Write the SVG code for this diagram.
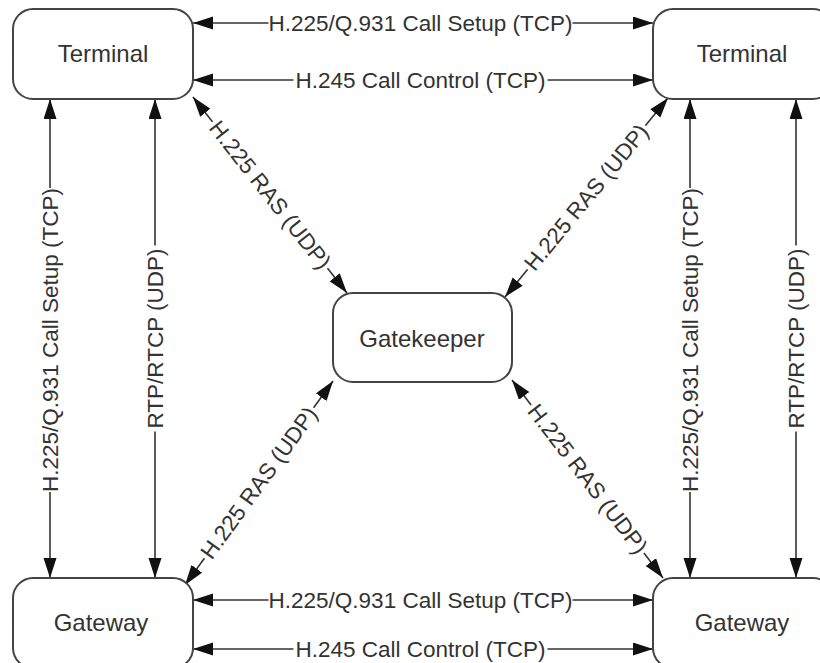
<svg xmlns="http://www.w3.org/2000/svg" width="820" height="663" viewBox="0 0 820 663">
<style>
.node rect{fill:#fff;stroke:#444;stroke-width:2}
.node text{font-family:"Liberation Sans",Arial,sans-serif;font-size:24px;fill:#333;text-anchor:middle;dominant-baseline:central}
.edge line{stroke:#333;stroke-width:1.6;marker-start:url(#arr);marker-end:url(#arr)}
.lbl text{font-family:"Liberation Sans",Arial,sans-serif;font-size:22.5px;fill:#333;text-anchor:middle;dominant-baseline:central}
.lbl rect{fill:#fff}
</style>
<defs>
<marker id="arr" markerUnits="userSpaceOnUse" markerWidth="22" markerHeight="16" refX="20" refY="6.5" orient="auto-start-reverse">
<path d="M0,0 L20,6.5 L0,13 z" fill="#111"/>
</marker>
</defs>
<rect width="820" height="663" fill="#fff"/>
<g id="connectors">
<g class="edge">
<line x1="193" y1="23" x2="653" y2="23"/>
<line x1="193" y1="80" x2="653" y2="80"/>
<line x1="193" y1="600" x2="653" y2="600"/>
<line x1="193" y1="649" x2="653" y2="649"/>
<line x1="50" y1="99" x2="50" y2="578"/>
<line x1="155" y1="99" x2="155" y2="578"/>
<line x1="690" y1="99" x2="690" y2="578"/>
<line x1="796" y1="99" x2="796" y2="578"/>
<line x1="193" y1="97" x2="347" y2="293"/>
<line x1="668" y1="98" x2="505" y2="297"/>
<line x1="333" y1="381" x2="185" y2="585"/>
<line x1="512" y1="380" x2="663" y2="578"/>
</g>
<g class="lbl">
<g transform="translate(420.5,23)"><rect x="-152" y="-5" width="304" height="10"/><text>H.225/Q.931 Call Setup (TCP)</text></g>
<g transform="translate(420.5,80)"><rect x="-127" y="-5" width="254" height="10"/><text>H.245 Call Control (TCP)</text></g>
<g transform="translate(420.5,600)"><rect x="-152" y="-5" width="304" height="10"/><text>H.225/Q.931 Call Setup (TCP)</text></g>
<g transform="translate(420.5,649)"><rect x="-127" y="-5" width="254" height="10"/><text>H.245 Call Control (TCP)</text></g>
<g transform="translate(50,340) rotate(-90)"><rect x="-152" y="-5" width="304" height="10"/><text>H.225/Q.931 Call Setup (TCP)</text></g>
<g transform="translate(155,338.5) rotate(-90)"><rect x="-93" y="-5" width="186" height="10"/><text>RTP/RTCP (UDP)</text></g>
<g transform="translate(690,340) rotate(-90)"><rect x="-152" y="-5" width="304" height="10"/><text>H.225/Q.931 Call Setup (TCP)</text></g>
<g transform="translate(796,338.5) rotate(-90)"><rect x="-93" y="-5" width="186" height="10"/><text>RTP/RTCP (UDP)</text></g>
<g transform="translate(270,195) rotate(51.84)"><rect x="-93" y="-5" width="186" height="10"/><text>H.225 RAS (UDP)</text></g>
<g transform="translate(586.5,197.5) rotate(-50.68)"><rect x="-93" y="-5" width="186" height="10"/><text>H.225 RAS (UDP)</text></g>
<g transform="translate(259,483) rotate(-54.04)"><rect x="-93" y="-5" width="186" height="10"/><text>H.225 RAS (UDP)</text></g>
<g transform="translate(587.5,479) rotate(52.67)"><rect x="-93" y="-5" width="186" height="10"/><text>H.225 RAS (UDP)</text></g>
</g>
</g>
<g id="terminal-left" class="node"><rect x="13" y="9" width="180" height="90" rx="20"/><text x="103" y="53">Terminal</text></g>
<g id="terminal-right" class="node"><rect x="653" y="9" width="180" height="90" rx="20"/><text x="742" y="53">Terminal</text></g>
<g id="gatekeeper" class="node"><rect x="333" y="293" width="179" height="89" rx="20"/><text x="422" y="338">Gatekeeper</text></g>
<g id="gateway-left" class="node"><rect x="13" y="578" width="180" height="90" rx="20"/><text x="101" y="622">Gateway</text></g>
<g id="gateway-right" class="node"><rect x="653" y="578" width="180" height="90" rx="20"/><text x="742" y="622">Gateway</text></g>
</svg>
